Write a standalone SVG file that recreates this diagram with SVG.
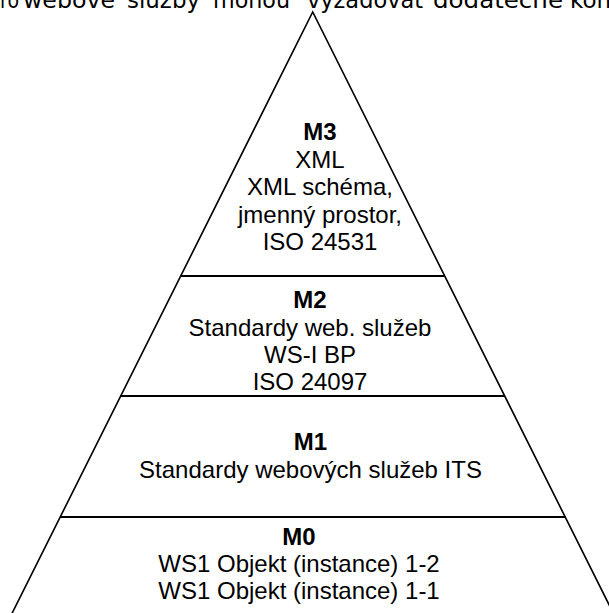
<svg xmlns="http://www.w3.org/2000/svg" width="609" height="613" viewBox="0 0 609 613">
<style>
.t{font-family:"Liberation Sans",Arial,sans-serif;font-size:24px;fill:#000;text-anchor:middle}
.b{font-weight:bold}
.top{font-family:"DejaVu Sans",Verdana,sans-serif;font-size:23px;fill:#000}
.edge{stroke:#000;stroke-width:1.6;fill:none}
.sep{stroke:#000;stroke-width:2;fill:none}
</style>
<rect width="609" height="613" fill="#fff"/>
<g id="caption">
<text class="top" x="0" y="8" textLength="19" lengthAdjust="spacingAndGlyphs">ro</text>
<text class="top" x="23" y="8" textLength="92" lengthAdjust="spacingAndGlyphs">webové</text>
<text class="top" x="127" y="8" textLength="73" lengthAdjust="spacingAndGlyphs">služby</text>
<text class="top" x="213" y="8" textLength="77" lengthAdjust="spacingAndGlyphs">mohou</text>
<text class="top" x="307" y="8" textLength="116" lengthAdjust="spacingAndGlyphs">vyžadovat</text>
<text class="top" x="433" y="8" textLength="130" lengthAdjust="spacingAndGlyphs">dodatečné</text>
<text class="top" x="570" y="8">kon</text>
</g>
<g id="pyramid">
<path class="edge" d="M 8.7 620 L 312.7 12 L 616.7 620"/>
</g>
<g id="connectors">
<line class="sep" x1="180.7" y1="276" x2="444.7" y2="276"/>
<line class="sep" x1="120.7" y1="396" x2="504.7" y2="396"/>
<line class="sep" x1="60.2" y1="517" x2="565.2" y2="517"/>
</g>
<g id="M3">
<text class="t b" x="320" y="140">M3</text>
<text class="t" x="320" y="168">XML</text>
<text class="t" x="320" y="195">XML schéma,</text>
<text class="t" x="320" y="223">jmenný prostor,</text>
<text class="t" x="320" y="250">ISO 24531</text>
</g>
<g id="M2">
<text class="t b" x="310" y="308">M2</text>
<text class="t" x="310" y="336">Standardy web. služeb</text>
<text class="t" x="310" y="363">WS-I BP</text>
<text class="t" x="310" y="390">ISO 24097</text>
</g>
<g id="M1">
<text class="t b" x="310.5" y="450">M1</text>
<text class="t" x="310.5" y="478">Standardy webových služeb ITS</text>
</g>
<g id="M0">
<text class="t b" x="299" y="545">M0</text>
<text class="t" x="299" y="572">WS1 Objekt (instance) 1-2</text>
<text class="t" x="299" y="599">WS1 Objekt (instance) 1-1</text>
</g>
</svg>
